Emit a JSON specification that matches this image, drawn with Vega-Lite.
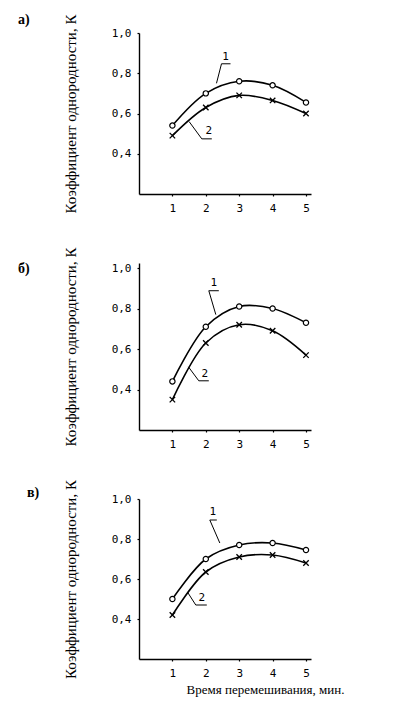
{
  "$schema": "https://vega.github.io/schema/vega-lite/v6.json",
  "background": "white",
  "padding": {"left": 18, "top": 13, "right": 5, "bottom": 5},
  "bounds": "flush",
  "spacing": 69,
  "data": {"values": [
    {"p":"a","k":"pt","s":1,"x":1,"y":0.54},{"p":"a","k":"pt","s":1,"x":2,"y":0.70},{"p":"a","k":"pt","s":1,"x":3,"y":0.76},{"p":"a","k":"pt","s":1,"x":4,"y":0.74},{"p":"a","k":"pt","s":1,"x":5,"y":0.655},
    {"p":"a","k":"pt","s":2,"x":1,"y":0.49},{"p":"a","k":"pt","s":2,"x":2,"y":0.63},{"p":"a","k":"pt","s":2,"x":3,"y":0.69},{"p":"a","k":"pt","s":2,"x":4,"y":0.665},{"p":"a","k":"pt","s":2,"x":5,"y":0.60},
    {"p":"b","k":"pt","s":1,"x":1,"y":0.44},{"p":"b","k":"pt","s":1,"x":2,"y":0.71},{"p":"b","k":"pt","s":1,"x":3,"y":0.81},{"p":"b","k":"pt","s":1,"x":4,"y":0.80},{"p":"b","k":"pt","s":1,"x":5,"y":0.73},
    {"p":"b","k":"pt","s":2,"x":1,"y":0.35},{"p":"b","k":"pt","s":2,"x":2,"y":0.63},{"p":"b","k":"pt","s":2,"x":3,"y":0.72},{"p":"b","k":"pt","s":2,"x":4,"y":0.69},{"p":"b","k":"pt","s":2,"x":5,"y":0.57},
    {"p":"c","k":"pt","s":1,"x":1,"y":0.50},{"p":"c","k":"pt","s":1,"x":2,"y":0.70},{"p":"c","k":"pt","s":1,"x":3,"y":0.77},{"p":"c","k":"pt","s":1,"x":4,"y":0.78},{"p":"c","k":"pt","s":1,"x":5,"y":0.745},
    {"p":"c","k":"pt","s":2,"x":1,"y":0.42},{"p":"c","k":"pt","s":2,"x":2,"y":0.635},{"p":"c","k":"pt","s":2,"x":3,"y":0.71},{"p":"c","k":"pt","s":2,"x":4,"y":0.72},{"p":"c","k":"pt","s":2,"x":5,"y":0.68},
    {"p":"a","k":"ld","id":1,"o":1,"x":2.32,"y":0.75},{"p":"a","k":"ld","id":1,"o":2,"x":2.47,"y":0.847},{"p":"a","k":"ld","id":1,"o":3,"x":2.74,"y":0.847},
    {"p":"a","k":"ld","id":2,"o":1,"x":1.5,"y":0.56},{"p":"a","k":"ld","id":2,"o":2,"x":1.88,"y":0.474},{"p":"a","k":"ld","id":2,"o":3,"x":2.18,"y":0.474},
    {"p":"b","k":"ld","id":1,"o":1,"x":2.30,"y":0.77},{"p":"b","k":"ld","id":1,"o":2,"x":2.09,"y":0.888},{"p":"b","k":"ld","id":1,"o":3,"x":2.39,"y":0.888},
    {"p":"b","k":"ld","id":2,"o":1,"x":1.48,"y":0.512},{"p":"b","k":"ld","id":2,"o":2,"x":1.79,"y":0.443},{"p":"b","k":"ld","id":2,"o":3,"x":2.09,"y":0.443},
    {"p":"c","k":"ld","id":1,"o":1,"x":2.42,"y":0.78},{"p":"c","k":"ld","id":1,"o":2,"x":2.12,"y":0.895},{"p":"c","k":"ld","id":1,"o":3,"x":2.33,"y":0.895},
    {"p":"c","k":"ld","id":2,"o":1,"x":1.45,"y":0.535},{"p":"c","k":"ld","id":2,"o":2,"x":1.70,"y":0.47},{"p":"c","k":"ld","id":2,"o":3,"x":2.03,"y":0.47},
    {"p":"a","k":"tx","t":"1","x":2.59,"y":0.88},{"p":"a","k":"tx","t":"2","x":2.09,"y":0.513},
    {"p":"b","k":"tx","t":"1","x":2.24,"y":0.925},{"p":"b","k":"tx","t":"2","x":1.97,"y":0.477},
    {"p":"c","k":"tx","t":"1","x":2.21,"y":0.935},{"p":"c","k":"tx","t":"2","x":1.88,"y":0.505}
  ]},
  "config": {
    "view": {"stroke": null},
    "axis": {"domainColor": "black", "domainWidth": 1.4, "tickColor": "black", "tickSize": 2, "tickWidth": 1.2,
      "labelFont": "DejaVu Sans Mono", "labelFontSize": 11, "labelColor": "black", "labelPadding": 6, "grid": false,
      "titleFont": "Liberation Serif", "titleFontSize": 15, "titleFontWeight": "normal", "titleColor": "black"},
    "title": {"font": "Liberation Serif", "fontSize": 14, "fontWeight": "bold", "color": "black", "anchor": "start", "frame": "group", "baseline": "bottom"}
  },
  "vconcat": [
    {
      "width": 172, "height": 161,
      "title": {"text": "а)", "dx": -121, "offset": -13},
      "transform": [{"filter": "datum.p == 'a'"}],
      "encoding": {
        "x": {"field": "x", "type": "quantitative", "scale": {"domain": [0, 5.15], "nice": false, "zero": false}, "axis": {"values": [1,2,3,4,5], "format": "d", "title": null}},
        "y": {"field": "y", "type": "quantitative", "scale": {"domain": [0.2, 1.0], "nice": false, "zero": false}, "axis": {"values": [0.4,0.6,0.8,1.0], "labelExpr": "replace(format(datum.value, '.1f'), '.', ',')", "title": "Коэффициент однородности, К", "titleX": -61}}
      },
      "layer": [
        {"transform": [{"filter": "datum.k == 'pt'"}], "mark": {"type": "line", "interpolate": "catmull-rom", "color": "black", "strokeWidth": 1.6}, "encoding": {"detail": {"field": "s"}}},
        {"transform": [{"filter": "datum.k == 'pt' && datum.s == 1"}], "mark": {"type": "point", "shape": "circle", "filled": true, "fill": "white", "stroke": "black", "strokeWidth": 1.2, "size": 28, "opacity": 1}},
        {"transform": [{"filter": "datum.k == 'pt' && datum.s == 2"}], "mark": {"type": "point", "shape": "M-1,-1L1,1M-1,1L1,-1", "filled": false, "color": "black", "strokeWidth": 1.3, "size": 30, "opacity": 1}},
        {"transform": [{"filter": "datum.k == 'ld'"}], "mark": {"type": "line", "color": "black", "strokeWidth": 1}, "encoding": {"detail": {"field": "id"}, "order": {"field": "o"}}},
        {"transform": [{"filter": "datum.k == 'tx'"}], "mark": {"type": "text", "font": "DejaVu Sans Mono", "fontSize": 11, "color": "black"}, "encoding": {"text": {"field": "t"}}}
      ]
    },
    {
      "width": 172, "height": 167,
      "title": {"text": "б)", "dx": -121, "offset": -29},
      "transform": [{"filter": "datum.p == 'b'"}],
      "encoding": {
        "x": {"field": "x", "type": "quantitative", "scale": {"domain": [0, 5.15], "nice": false, "zero": false}, "axis": {"values": [1,2,3,4,5], "format": "d", "title": null}},
        "y": {"field": "y", "type": "quantitative", "scale": {"domain": [0.2, 1.025], "nice": false, "zero": false}, "axis": {"values": [0.4,0.6,0.8,1.0], "labelExpr": "replace(format(datum.value, '.1f'), '.', ',')", "title": "Коэффициент однородности, К", "titleX": -61}}
      },
      "layer": [
        {"transform": [{"filter": "datum.k == 'pt'"}], "mark": {"type": "line", "interpolate": "catmull-rom", "color": "black", "strokeWidth": 1.6}, "encoding": {"detail": {"field": "s"}}},
        {"transform": [{"filter": "datum.k == 'pt' && datum.s == 1"}], "mark": {"type": "point", "shape": "circle", "filled": true, "fill": "white", "stroke": "black", "strokeWidth": 1.2, "size": 28, "opacity": 1}},
        {"transform": [{"filter": "datum.k == 'pt' && datum.s == 2"}], "mark": {"type": "point", "shape": "M-1,-1L1,1M-1,1L1,-1", "filled": false, "color": "black", "strokeWidth": 1.3, "size": 30, "opacity": 1}},
        {"transform": [{"filter": "datum.k == 'ld'"}], "mark": {"type": "line", "color": "black", "strokeWidth": 1}, "encoding": {"detail": {"field": "id"}, "order": {"field": "o"}}},
        {"transform": [{"filter": "datum.k == 'tx'"}], "mark": {"type": "text", "font": "DejaVu Sans Mono", "fontSize": 11, "color": "black"}, "encoding": {"text": {"field": "t"}}}
      ]
    },
    {
      "width": 172, "height": 160,
      "title": {"text": "в)", "dx": -112, "offset": -20.5},
      "transform": [{"filter": "datum.p == 'c'"}],
      "encoding": {
        "x": {"field": "x", "type": "quantitative", "scale": {"domain": [0, 5.15], "nice": false, "zero": false}, "axis": {"values": [1,2,3,4,5], "format": "d", "title": "Время перемешивания, мин.", "titleX": 126, "titleY": 30, "titleAlign": "center", "titleBaseline": "middle", "titleFontSize": 13}},
        "y": {"field": "y", "type": "quantitative", "scale": {"domain": [0.2, 1.0], "nice": false, "zero": false}, "axis": {"values": [0.4,0.6,0.8,1.0], "labelExpr": "replace(format(datum.value, '.1f'), '.', ',')", "title": "Коэффициент однородности, К", "titleX": -61}}
      },
      "layer": [
        {"transform": [{"filter": "datum.k == 'pt'"}], "mark": {"type": "line", "interpolate": "catmull-rom", "color": "black", "strokeWidth": 1.6}, "encoding": {"detail": {"field": "s"}}},
        {"transform": [{"filter": "datum.k == 'pt' && datum.s == 1"}], "mark": {"type": "point", "shape": "circle", "filled": true, "fill": "white", "stroke": "black", "strokeWidth": 1.2, "size": 28, "opacity": 1}},
        {"transform": [{"filter": "datum.k == 'pt' && datum.s == 2"}], "mark": {"type": "point", "shape": "M-1,-1L1,1M-1,1L1,-1", "filled": false, "color": "black", "strokeWidth": 1.3, "size": 30, "opacity": 1}},
        {"transform": [{"filter": "datum.k == 'ld'"}], "mark": {"type": "line", "color": "black", "strokeWidth": 1}, "encoding": {"detail": {"field": "id"}, "order": {"field": "o"}}},
        {"transform": [{"filter": "datum.k == 'tx'"}], "mark": {"type": "text", "font": "DejaVu Sans Mono", "fontSize": 11, "color": "black"}, "encoding": {"text": {"field": "t"}}}
      ]
    }
  ]
}
